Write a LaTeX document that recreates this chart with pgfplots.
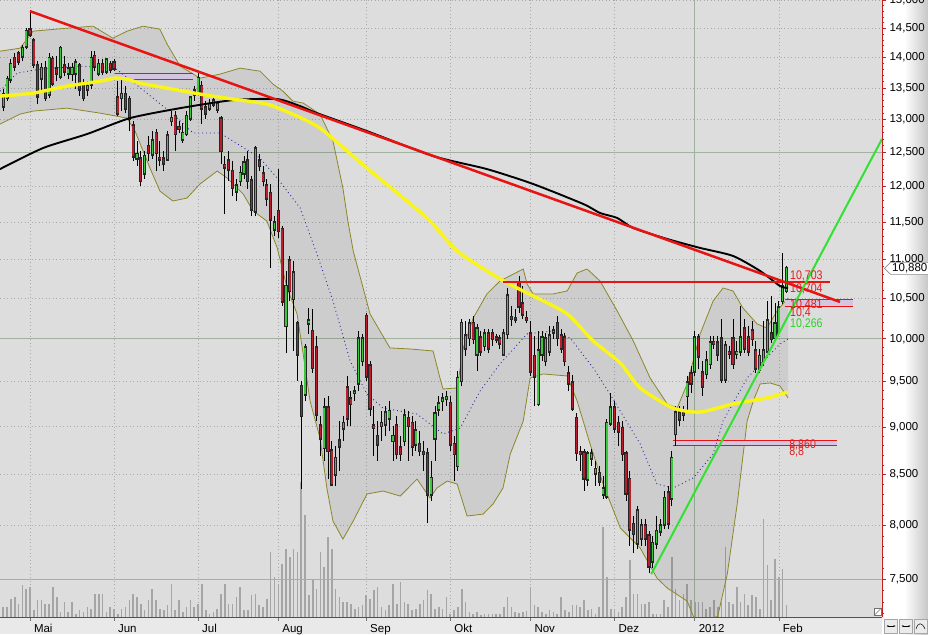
\documentclass[border=0pt]{standalone}
\usepackage{pgfplots}
\pgfplotsset{compat=1.18}
\usepackage{pgfplotstable}
\usetikzlibrary{arrows.meta}
\usepackage{fontspec}
\setmainfont{Liberation Sans}

\definecolor{plotbg}{RGB}{221,221,221}
\definecolor{stripbg}{RGB}{233,233,233}
\definecolor{axisred}{RGB}{200,30,30}
\definecolor{gridgray}{RGB}{170,170,170}
\definecolor{gridsolid}{RGB}{160,178,160}
\definecolor{upgreen}{RGB}{60,200,60}
\definecolor{downred}{RGB}{185,30,45}
\definecolor{volgray}{RGB}{165,165,165}
\definecolor{mayellow}{RGB}{250,245,25}
\definecolor{trendred}{RGB}{232,20,20}
\definecolor{trendgreen}{RGB}{50,225,50}
\definecolor{bandolive}{RGB}{140,135,40}
\definecolor{dotblue}{RGB}{40,40,170}
\definecolor{zonefill}{RGB}{212,198,224}
\definecolor{labelred}{RGB}{225,30,30}
\definecolor{labelgreen}{RGB}{40,210,40}
\newcommand\lblfont{\fontsize{12.5}{13}\selectfont}
\newcommand\tickfont{\fontsize{11.5}{12}\selectfont}

% daily candles: index (trading day from 2 May), open, high, low, close
\pgfplotstableread{
i o h l c
-7 13210 13480 13130 13400
-6 13340 13690 13290 13640
-5 13640 13970 13580 13890
-4 13990 14070 13770 13860
-3 14060 14110 13870 13940
-2 14020 14210 13940 14160
-1 14190 14500 14140 14450
0 14470 14800 14350 14400
1 14280 14330 13820 13890
2 13860 13940 13240 13370
3 13660 13910 13450 13820
4 13820 13940 13290 13340
5 13400 14070 13340 13990
6 13970 14020 13530 13580
7 13810 14020 13610 13740
8 13690 14190 13640 14160
9 13860 14020 13690 13770
10 13740 13910 13640 13810
11 13730 13910 13610 13820
12 13740 13970 13480 13910
13 13860 13910 13370 13480
14 13560 13640 13290 13340
15 13480 13610 13370 13530
16 13560 14110 13480 13990
17 14020 14110 13770 13860
18 13740 13970 13690 13890
19 13890 13970 13710 13770
20 13770 13990 13720 13960
21 13890 13940 13740 13810
22 13910 13970 13770 13820
23 13340 13610 13050 13100
24 13340 13640 13130 13400
25 13400 13530 13100 13180
26 13320 13370 12820 13020
27 12900 12980 12370 12440
28 12410 12670 12300 12470
29 12400 12520 12000 12080
30 12190 12520 12110 12440
31 12590 12750 12370 12490
32 12470 12820 12400 12670
33 12790 12850 12220 12490
34 12410 12670 12300 12395
35 12400 12520 12220 12340
36 12400 12820 12370 12750
37 12980 13130 12900 13020
38 13050 13130 12520 12780
39 12880 12980 12790 12860
40 12700 12940 12640 12790
41 12780 13130 12750 13050
42 13020 13370 12980 13340
43 13450 13530 13290 13400
44 13420 13740 13370 13660
45 13530 13610 12930 13180
46 13180 13290 13010 13100
47 13180 13320 13130 13240
48 13240 13340 13190 13290
49 13160 13290 13100 13240
50 13010 13050 12330 12520
51 12305 12440 11610 12280
52 12370 12520 12080 12250
53 12220 12370 11860 11980
54 11930 12110 11790 12010
55 12080 12300 12000 12190
56 12190 12440 12110 12340
57 12370 12520 11960 12080
58 12080 12150 11580 11680
59 11650 12590 11580 12550
60 12370 12470 12220 12300
61 12180 12300 12000 12080
62 12010 12110 11720 11830
63 11900 12030 10880 11540
64 11400 11580 11310 11490
65 11650 12250 11280 11380
66 11400 11450 10400 10460
67 10160 10850 9830 10650
68 10980 11040 10460 10590
69 10490 10980 9860 10820
70 10180 10220 9510 9820
71 9450 9510 8355 9120
72 9360 9940 9280 9890
73 10190 10380 10060 10220
74 10090 10360 9600 9660
75 9890 10030 9060 9140
76 9010 9120 8690 8880
77 8780 9320 8640 9210
78 9210 9340 8455 8745
79 8745 8850 8385 8405
80 8505 8795 8385 8670
81 8850 9060 8540 8795
82 8985 9120 8850 9040
83 9430 9565 9010 9095
84 9305 9395 9010 9250
85 9375 9450 9285 9385
86 9485 10095 9395 10000
87 9740 10060 9680 10000
88 10275 10315 9510 9565
89 9680 9740 9120 9205
90 9010 9230 8690 8990
91 8900 9060 8640 8815
92 9010 9170 8850 9040
93 9030 9230 8900 9150
94 9095 9285 8955 9170
95 8850 9010 8640 8900
96 9010 9120 8660 8715
97 8775 8900 8640 8715
98 8850 9195 8795 9120
99 9095 9170 8640 9010
100 9040 9120 8690 8795
101 8815 9060 8745 8955
102 8815 8955 8690 8745
103 8730 8850 8540 8715
104 8715 8775 8020 8305
105 8305 8640 8235 8465
106 8880 9230 8640 9140
107 9195 9340 9120 9250
108 9285 9375 9170 9305
109 9310 9395 9230 9325
110 9260 9340 8745 8815
111 8815 8900 8435 8715
112 8590 9620 8540 9540
113 9510 10240 9450 10190
114 9890 10215 9795 10035
115 10010 10240 9915 10180
116 10190 10280 9940 10000
117 9820 10180 9620 10120
118 10010 10095 9795 9855
119 9915 10120 9855 10060
120 10060 10120 9830 9890
121 10060 10120 9915 10000
122 10010 10060 9950 9995
123 10000 10045 9880 9950
124 9820 10120 9795 10060
125 10060 10630 10000 10525
126 10260 10400 10155 10245
127 10250 10365 10190 10235
128 10690 10780 10315 10400
129 10425 10650 10240 10300
130 10250 10340 10190 10232
131 10060 10215 9565 9620
132 9795 10035 9230 9565
133 9250 10095 9230 9855
134 9820 10095 9740 10010
135 9740 10070 9680 10000
136 9855 10155 9795 10035
137 10080 10155 10000 10095
138 10190 10280 9915 10010
139 10035 10120 9830 9890
140 10010 10070 9680 9740
141 9590 9680 9395 9485
142 9485 9575 9170 9205
143 9095 9150 8640 8725
144 8730 8795 8540 8715
145 8725 8765 8335 8465
146 8455 8745 8385 8715
147 8670 8765 8590 8715
148 8515 8640 8385 8555
149 8515 8590 8385 8435
150 8305 8485 8255 8355
151 8285 9085 8255 9040
152 9040 9375 9010 9205
153 9205 9285 8935 8985
154 9040 9120 8795 8955
155 8985 9065 8640 8715
156 8715 8745 8235 8315
157 8455 8535 7805 7965
158 8010 8090 7740 7920
159 7830 8185 7775 8140
160 7880 8060 7805 7995
161 7995 8060 7805 7880
162 7900 7945 7555 7620
163 7665 7900 7600 7830
164 7830 8090 7775 7945
165 7945 8060 7900 7995
166 8010 8335 7965 8265
167 8315 8385 7965 8020
168 8265 8745 8185 8670
169 8925 9230 8795 9150
170 9150 9230 9010 9085
171 9148 9230 9065 9132
172 9340 9565 9170 9485
173 9590 9680 9375 9485
174 9620 10095 9565 10010
175 10010 10060 9645 9795
176 9600 9740 9340 9450
177 9590 9855 9530 9740
178 9705 10035 9645 9950
179 9958 10035 9880 9942
180 9950 10035 9740 9820
181 10000 10240 9485 9530
182 9530 9975 9485 9915
183 9838 9915 9760 9822
184 10000 10240 9645 9705
185 9822 9975 9760 9838
186 9855 10400 9795 10010
187 10120 10240 9830 9890
188 10010 10155 9795 9855
189 10095 10215 9915 10000
190 9855 9975 9600 9655
191 9645 9880 9600 9795
192 9740 10215 9680 9855
193 9855 10465 9830 10215
194 10060 10525 9950 10000
195 10010 10440 9975 10180
196 10070 10465 10035 10375
197 10465 11080 10425 10650
198 10590 10910 10565 10880
}\candles

% volume (relative units)
\pgfplotstableread{
i v
-7 10
-6 10
-5 18
-4 20
-3 13
-2 32
-1 28
0 30
1 7
2 17
3 17
4 13
5 13
6 30
7 20
8 5
9 15
10 5
11 15
12 3
13 7
14 5
15 10
16 8
17 23
18 23
19 23
20 5
21 10
22 8
23 3
24 8
25 10
26 17
27 23
28 20
29 13
30 7
31 17
32 28
33 17
34 8
35 7
36 12
37 33
38 7
39 17
40 5
41 10
42 17
43 10
44 13
45 33
46 7
47 3
48 5
49 8
50 23
51 33
52 13
53 13
54 20
55 30
56 7
57 7
58 22
59 23
60 12
61 10
62 18
63 65
64 40
65 33
66 53
67 68
68 60
69 68
70 65
71 135
72 102
73 22
74 38
75 28
76 65
77 50
78 80
79 68
80 28
81 20
82 15
83 15
84 13
85 8
86 10
87 12
88 22
89 18
90 27
91 30
92 10
93 7
94 12
95 33
96 13
97 35
98 15
99 13
100 7
101 8
102 13
103 17
104 27
105 23
106 8
107 10
108 8
109 20
110 3
111 7
112 10
113 28
114 15
115 5
116 3
117 5
118 2
119 3
120 3
121 3
122 3
123 3
124 10
125 20
126 10
127 5
128 4
129 5
130 6
131 30
132 12
133 10
134 5
135 3
136 7
137 5
138 3
139 20
140 7
141 5
142 12
143 12
144 10
145 17
146 7
147 8
148 3
149 10
150 90
151 40
152 8
153 7
154 5
155 10
156 20
157 57
158 23
159 23
160 13
161 13
162 15
163 3
164 3
165 3
166 17
167 10
168 60
169 28
170 17
171 23
172 33
173 17
174 15
175 15
176 15
177 8
178 10
179 17
180 10
181 15
182 70
183 15
184 13
185 30
186 15
187 23
188 12
189 22
190 20
191 8
192 98
193 52
194 17
195 58
196 40
197 48
198 12
}\volumes

% build wick and body coordinate streams from the candle table
\pgfplotstablegetrowsof{\candles}
\pgfmathtruncatemacro\lastrow{\pgfplotsretval-1}
\def\wickpts{}\def\uppts{}\def\downpts{}\def\allpts{}
\pgfplotsforeachungrouped \rowidx in {0,...,\lastrow}{%
  \pgfplotstablegetelem{\rowidx}{i}\of\candles\edef\cdI{\pgfplotsretval}%
  \pgfplotstablegetelem{\rowidx}{o}\of\candles\edef\cdO{\pgfplotsretval}%
  \pgfplotstablegetelem{\rowidx}{h}\of\candles\edef\cdH{\pgfplotsretval}%
  \pgfplotstablegetelem{\rowidx}{l}\of\candles\edef\cdL{\pgfplotsretval}%
  \pgfplotstablegetelem{\rowidx}{c}\of\candles\edef\cdC{\pgfplotsretval}%
  \edef\wickpts{\wickpts(\cdI,\cdL)(\cdI,\cdH)(\cdI,nan)}%
  \edef\allpts{\allpts(\cdI,\cdO)(\cdI,\cdC)(\cdI,nan)}%
  \ifdim\cdC pt<\cdO pt
    \edef\downpts{\downpts(\cdI,\cdO)(\cdI,\cdC)(\cdI,nan)}%
  \else
    \edef\uppts{\uppts(\cdI,\cdO)(\cdI,\cdC)(\cdI,nan)}%
  \fi
}

\begin{document}
\begin{tikzpicture}
\useasboundingbox (0pt,-17pt) rectangle (928pt,617pt);
\fill[plotbg] (0pt,0pt) rectangle (882pt,617pt);
\fill[stripbg] (0pt,-17pt) rectangle (882pt,0pt);
\fill[white] (882pt,-17pt) rectangle (904pt,617pt);
\shade[left color=white, right color=black!22] (904pt,-17pt) rectangle (928pt,617pt);

% volume panel
\begin{axis}[at={(0pt,0pt)}, anchor=south west, scale only axis,
  width=882pt, height=617pt, xmin=-7.85, xmax=223, ymin=0, ymax=617, hide axis]
\addplot[ycomb, draw=volgray, line width=1.6pt] table[x=i, y=v]{\volumes};
\end{axis}

\begin{axis}[at={(0pt,0pt)}, anchor=south west, scale only axis,
  width=882pt, height=617pt,
  xmin=-7.85, xmax=223,
  ymode=log, ymin=7170, ymax=15000,
  axis x line*=bottom, axis y line*=right,
  axis line style={draw=axisred, line width=0.8pt},
  tick align=outside, major tick length=4pt, minor tick length=2.2pt,
  xtick={0,22,44,65,88,110,131,153,174,196},
  xticklabels={Mai,Jun,Jul,Aug,Sep,Okt,Nov,Dez,2012,Feb},
  ytick={7500,8000,8500,9000,9500,10000,10500,11000,11500,12000,12500,13000,13500,14000,14500,15000},
  yticklabels={{7,500},{8,000},{8,500},{9,000},{9,500},{10,000},{10,500},{11,000},{11,500},{12,000},{12,500},{13,000},{13,500},{14,000},{14,500},{15,000}},
  minor ytick={7200,7300,7400,7600,7700,7800,7900,8100,8200,8300,8400,8600,8700,8800,8900,9100,9200,9300,9400,9600,9700,9800,9900,10100,10200,10300,10400,10600,10700,10800,10900,11100,11200,11300,11400,11600,11700,11800,11900,12100,12200,12300,12400,12600,12700,12800,12900,13100,13200,13300,13400,13600,13700,13800,13900,14100,14200,14300,14400,14600,14700,14800,14900},
  xmajorgrids, ymajorgrids,
  major grid style={draw=gridgray, line width=0.7pt, dash pattern=on 1pt off 2.5pt},
  extra y ticks={7500,10000,12500}, extra y tick labels={},
  extra y tick style={grid=major, major grid style={draw=gridsolid, line width=0.9pt, solid}},
  extra x ticks={174}, extra x tick labels={},
  extra x tick style={grid=major, major grid style={draw=gridsolid, line width=0.9pt, solid}},
  xtick style={draw=black!55, line width=0.6pt},
  ytick style={draw=axisred, line width=0.6pt},
  ticklabel style={font=\tickfont, text=black},
  xticklabel style={anchor=north west, xshift=0.5pt},
  yticklabel style={anchor=west},
  unbounded coords=jump,
]
% Bollinger band area (upper edge, then lower edge backwards)
\addplot[draw=none, fill=black, fill opacity=0.07] coordinates {
(-7.85,14107) (-2.6,14158) (0.8,14449) (9.7,14501) (16.5,14536) (21.7,14329) (25.4,14449)
(29.6,14536) (34.0,14484) (35.9,14226) (39.3,13857) (44.5,13659) (49.7,13725) (55.0,13824)
(60.2,13774) (63.6,13562) (66.2,13449) (68.8,13289) (71.5,13258) (75.9,13084) (79.3,12669)
(81.9,11976) (83.2,11513) (84.6,11108) (89.0,10302) (94.2,9891) (99.5,9879) (105.5,9855)
(107.3,9542) (108.1,9417) (111.8,9429) (113.4,9891) (116.0,10252) (119.6,10551) (123.0,10716)
(129.1,10871) (130.1,10678) (131.7,10551) (136.9,10551) (140.6,10589) (143.2,10819)
(145.8,10871) (149.2,10716) (153.7,10338) (157.9,9974) (162.3,9542) (166.8,9250) (169.4,9205)
(172.0,9474) (175.4,10058) (178.8,10463) (181.4,10627) (184.0,10589) (186.6,10375)
(190.3,10179) (192.9,10130) (195.5,10338) (198.4,10501)
(198.4,9317) (196.3,9451) (193.7,9485) (191.1,9474) (189.3,9283) (187.7,9063) (185.1,8207)
(182.5,7547) (180.0,7176) (175.4,7116) (173.6,7176) (172.0,7307) (166.8,7422) (164.1,7511)
(159.7,7786) (154.5,7975) (150.0,8405) (146.6,8817) (143.2,9283) (140.6,9565) (134.3,9588)
(130.9,9542) (129.1,9063) (125.7,8713) (123.8,8365) (121.2,8207) (118.6,8108) (114.4,8089)
(111.8,8405) (109.2,8435) (106.5,8365) (104.7,8266) (101.3,8455) (96.9,8285) (92.4,8335)
(88.2,8305) (84.6,8041) (81.9,7870) (79.3,8041) (77.7,8365) (75.9,8881) (73.3,9283)
(71.5,9820) (69.9,10302) (67.3,10627) (64.7,11148) (62.0,11513) (58.4,11652) (55.8,11891)
(51.6,12120) (49.0,12222) (44.5,12034) (41.1,11834) (37.4,11792) (34.0,11933) (31.4,12266)
(27.5,12821) (25.4,13022) (18.3,13100) (9.7,13178) (0.8,13131) (-2.6,13084) (-7.85,12929)};
% Bollinger band edges
\addplot[draw=bandolive, line width=0.8pt] coordinates {
(-7.85,14107) (-2.6,14158) (0.8,14449) (9.7,14501) (16.5,14536) (21.7,14329) (25.4,14449)
(29.6,14536) (34.0,14484) (35.9,14226) (39.3,13857) (44.5,13659) (49.7,13725) (55.0,13824)
(60.2,13774) (63.6,13562) (66.2,13449) (68.8,13289) (71.5,13258) (75.9,13084) (79.3,12669)
(81.9,11976) (83.2,11513) (84.6,11108) (89.0,10302) (94.2,9891) (99.5,9879) (105.5,9855)
(107.3,9542) (108.1,9417) (111.8,9429) (113.4,9891) (116.0,10252) (119.6,10551) (123.0,10716)
(129.1,10871) (130.1,10678) (131.7,10551) (136.9,10551) (140.6,10589) (143.2,10819)
(145.8,10871) (149.2,10716) (153.7,10338) (157.9,9974) (162.3,9542) (166.8,9250) (169.4,9205)
(172.0,9474) (175.4,10058) (178.8,10463) (181.4,10627) (184.0,10589) (186.6,10375)
(190.3,10179) (192.9,10130) (195.5,10338) (198.4,10501)};
\addplot[draw=bandolive, line width=0.8pt] coordinates {
(-7.85,12929) (-2.6,13084) (0.8,13131) (9.7,13178) (18.3,13100) (25.4,13022) (27.5,12821)
(31.4,12266) (34.0,11933) (37.4,11792) (41.1,11834) (44.5,12034) (49.0,12222) (51.6,12120)
(55.8,11891) (58.4,11652) (62.0,11513) (64.7,11148) (67.3,10627) (69.9,10302) (71.5,9820)
(73.3,9283) (75.9,8881) (77.7,8365) (79.3,8041) (81.9,7870) (84.6,8041) (88.2,8305)
(92.4,8335) (96.9,8285) (101.3,8455) (104.7,8266) (106.5,8365) (109.2,8435) (111.8,8405)
(114.4,8089) (118.6,8108) (121.2,8207) (123.8,8365) (125.7,8713) (129.1,9063) (130.9,9542)
(134.3,9588) (140.6,9565) (143.2,9283) (146.6,8817) (150.0,8405) (154.5,7975) (159.7,7786)
(164.1,7511) (166.8,7422) (172.0,7307) (173.6,7176) (175.4,7116) (180.0,7176) (182.5,7547)
(185.1,8207) (187.7,9063) (189.3,9283) (191.1,9474) (193.7,9485) (196.3,9451) (198.4,9317)};

% resistance / support zones
\addplot[draw=none, fill=zonefill] coordinates {(22.3,13630) (42.7,13630) (42.7,13740) (22.3,13740)};
\addplot[trendred, line width=0.9pt] coordinates {(22.3,13740) (42.7,13740)};
\addplot[trendred, line width=0.9pt] coordinates {(22.3,13630) (42.7,13630)};
\addplot[draw=none, fill=zonefill] coordinates {(197.6,10400) (215.4,10400) (215.4,10481) (197.6,10481)};
\addplot[trendred, line width=0.9pt] coordinates {(197.6,10481) (215.4,10481)};
\addplot[trendred, line width=0.9pt] coordinates {(197.6,10400) (215.4,10400)};
\addplot[draw=none, fill=zonefill] coordinates {(168.3,8800) (211.3,8800) (211.3,8860) (168.3,8860)};
\addplot[trendred, line width=0.9pt] coordinates {(168.3,8860) (211.3,8860)};
\addplot[trendred, line width=0.9pt] coordinates {(168.3,8800) (211.3,8800)};

% 20-day average (dotted)
\addplot[dotblue, line width=0.9pt, dash pattern=on 0.9pt off 3pt] coordinates {
(-7.85,13449) (-3.4,13741) (2.6,13807) (13.1,13857) (22.3,13824) (30.6,13417) (37.4,13084)
(42.7,12791) (49.7,12791) (53.1,12669) (60.2,12414) (64.7,12120) (70.7,11694) (75.1,11068)
(79.3,10463) (83.8,9738) (88.2,9361) (92.4,9205) (101.3,9139) (108.1,8923) (112.6,8987)
(117.8,9395) (123,9703) (130.1,10058) (136.9,10094) (141.4,10010) (147.4,9657) (151.8,9361)
(159.7,8817) (164.1,8405) (168.3,8365) (173.6,8466) (178.8,8713) (181.4,9063) (187.7,9542)
(196.3,9938) (198.4,9998)};

% candlesticks
\edef\tmp{\noexpand\addplot[black, line width=0.9pt] coordinates {\wickpts};}\tmp
\edef\tmp{\noexpand\addplot[black!85, line width=3.1pt, line cap=rect] coordinates {\allpts};}\tmp
\edef\tmp{\noexpand\addplot[upgreen, line width=1.4pt] coordinates {\uppts};}\tmp
\edef\tmp{\noexpand\addplot[downred, line width=1.4pt] coordinates {\downpts};}\tmp

% 200-day and 100-day averages
\addplot[black, line width=1.9pt, smooth, tension=0.4] coordinates {
(-7.85,12251) (3.4,12563) (14.9,12775) (26.2,13022) (39.3,13178) (53.1,13305) (64.7,13321)
(70.7,13210) (75.1,13100) (88.2,12821) (105.5,12444) (119.6,12251) (131.7,12034)
(144.8,11750) (149.2,11624) (153.7,11555) (157.9,11417) (166.8,11268) (175.4,11148)
(184,11042) (191.1,10845) (196.3,10652) (198.4,10627)};
\addplot[mayellow, line width=3.4pt, smooth, tension=0.4] coordinates {
(-7.85,13369) (0.8,13417) (9.7,13530) (18.3,13610) (22.3,13659) (25.4,13643) (28.8,13578)
(35.9,13497) (44.5,13401) (53.1,13321) (62,13242) (68.1,13100) (75.9,12867) (88.2,12266)
(103.9,11555) (111.8,11108) (123,10742) (131.7,10526) (140.6,10302) (147.4,9974)
(154.5,9715) (159.7,9429) (168.3,9205) (175.4,9161) (184,9250) (192.9,9317) (198.4,9384)};

% trend lines
\addplot[trendred, line width=2.5pt] coordinates {(0,14799) (212,10451)};
\addplot[trendred, line width=1.8pt] coordinates {(123.8,10703) (209.4,10703)};
\addplot[trendgreen, line width=2pt] coordinates {(162.6,7547) (223,12700)};

% value labels
\node[anchor=west, text=labelred, font=\lblfont, inner sep=0pt, xscale=0.85] at (axis cs:198.9,10780) {10,703};
\node[anchor=west, text=labelred, font=\lblfont, inner sep=0pt, xscale=0.85] at (axis cs:198.9,10614) {10,704};
\node[anchor=west, text=labelred, font=\lblfont, inner sep=0pt, xscale=0.85] at (axis cs:198.9,10413) {10,481};
\node[anchor=west, text=labelred, font=\lblfont, inner sep=0pt, xscale=0.85] at (axis cs:198.9,10314) {10,4};
\node[anchor=west, text=labelgreen, font=\lblfont, inner sep=0pt, xscale=0.85] at (axis cs:198.9,10179) {10,266};
\node[anchor=west, text=labelred, font=\lblfont, inner sep=0pt, xscale=0.85] at (axis cs:198.7,8807) {8,860};
\node[anchor=west, text=labelred, font=\lblfont, inner sep=0pt, xscale=0.85] at (axis cs:198.7,8734) {8,8};
\coordinate (pm) at (axis cs:223,10880);
\end{axis}

% last price marker
\begin{scope}[shift={(pm)}]
\draw[draw=black!45, fill=white, line width=0.6pt] (2.5pt,0pt) -- (8.5pt,6pt) -- (47pt,6pt) -- (47pt,-6pt) -- (8.5pt,-6pt) -- cycle;
\node[font=\tickfont, anchor=west, inner sep=0pt] at (10pt,0pt) {10,880};
\end{scope}

% corner widgets
\draw[black!55, fill=white, line width=0.5pt] (874pt,1.5pt) rectangle (881pt,8.5pt);
\draw[black!55, line width=0.5pt] (874pt,1.5pt) -- (881pt,8.5pt);
\foreach \bx in {884,899,914}{
  \draw[fill=black!8, draw=black!35, line width=0.5pt] (\bx pt,-16pt) rectangle ++(13.5pt,13.5pt);
}
\draw[{Stealth[length=2pt]}-{Stealth[length=2pt]}, line width=0.5pt] (886.5pt,-9pt) -- (895.5pt,-9pt);
\draw[{Stealth[length=2pt]}-{Stealth[length=2pt]}, line width=0.5pt] (901.5pt,-9pt) -- (910.5pt,-9pt);
\draw[line width=0.5pt] (916pt,-12pt) .. controls (918pt,-5pt) and (922pt,-5pt) .. (925pt,-12pt);
\end{tikzpicture}
\end{document}
